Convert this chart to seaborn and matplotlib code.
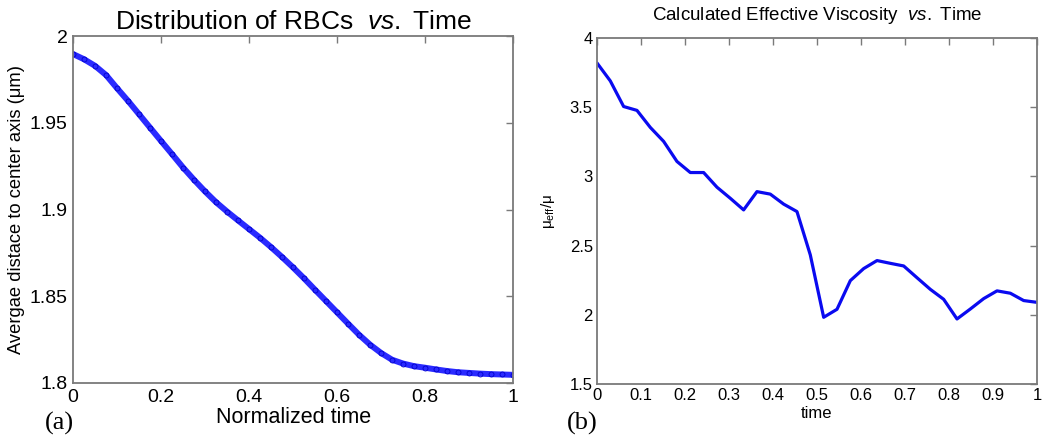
import matplotlib
matplotlib.use("Agg")
import matplotlib.pyplot as plt
import seaborn as sns
import pandas as pd

# ---- data ----
norm_time = [0.0, 0.025, 0.05, 0.075, 0.1, 0.125, 0.15, 0.175, 0.2, 0.225, 0.25,
             0.275, 0.3, 0.325, 0.35, 0.375, 0.4, 0.425, 0.45, 0.475, 0.5,
             0.525, 0.55, 0.575, 0.6, 0.625, 0.65, 0.675, 0.7, 0.725, 0.75,
             0.775, 0.8, 0.825, 0.85, 0.875, 0.9, 0.925, 0.95, 0.975, 1.0]
avg_dist = [1.9896, 1.9866, 1.9828, 1.9775, 1.9699, 1.9626, 1.9549, 1.9472, 1.9395,
            1.9319, 1.9242, 1.9171, 1.9104, 1.9042, 1.8988, 1.8937, 1.8887, 1.8837,
            1.8783, 1.8726, 1.8666, 1.8603, 1.8537, 1.8472, 1.8407, 1.8342, 1.8278,
            1.8221, 1.8173, 1.8134, 1.8112, 1.8097, 1.8088, 1.8078, 1.8069, 1.8062,
            1.8058, 1.8054, 1.8051, 1.8049, 1.8047]

visc_time = [0.0, 0.0303, 0.0606, 0.0909, 0.1212, 0.1515, 0.1818, 0.2121, 0.2424,
             0.2727, 0.3030, 0.3333, 0.3636, 0.3939, 0.4242, 0.4545, 0.4848, 0.5152,
             0.5455, 0.5758, 0.6061, 0.6364, 0.6667, 0.6970, 0.7273, 0.7576, 0.7879,
             0.8182, 0.8485, 0.8788, 0.9091, 0.9394, 0.9697, 1.0]
visc_ratio = [3.82, 3.69, 3.505, 3.477, 3.354, 3.253, 3.108, 3.028, 3.028, 2.922,
              2.842, 2.758, 2.89, 2.872, 2.80, 2.746, 2.433, 1.982, 2.04, 2.247,
              2.334, 2.392, 2.372, 2.353, 2.268, 2.184, 2.112, 1.970, 2.042, 2.117,
              2.173, 2.156, 2.103, 2.09]

left_xticks = [0, 0.2, 0.4, 0.6, 0.8, 1.0]
left_xticklabels = ["0", "0.2", "0.4", "0.6", "0.8", "1"]
left_yticks = [1.8, 1.85, 1.9, 1.95, 2.0]
left_yticklabels = ["1.8", "1.85", "1.9", "1.95", "2"]
right_xticks = [0, 0.1, 0.2, 0.3, 0.4, 0.5, 0.6, 0.7, 0.8, 0.9, 1.0]
right_xticklabels = ["0", "0.1", "0.2", "0.3", "0.4", "0.5", "0.6", "0.7", "0.8", "0.9", "1"]
right_yticks = [1.5, 2, 2.5, 3, 3.5, 4]
right_yticklabels = ["1.5", "2", "2.5", "3", "3.5", "4"]

df1 = pd.DataFrame({"t": norm_time, "d": avg_dist})
df2 = pd.DataFrame({"t": visc_time, "v": visc_ratio})

sns.set_theme(style="white")
plt.rcParams["font.family"] = ["Liberation Sans", "DejaVu Sans"]
plt.rcParams["mathtext.fontset"] = "custom"
plt.rcParams["mathtext.rm"] = "Liberation Sans"
plt.rcParams["mathtext.it"] = "Liberation Sans:italic"
for key in ("text.color", "axes.labelcolor", "xtick.labelcolor", "ytick.labelcolor",
            "axes.titlecolor"):
    plt.rcParams[key] = "black"

fig = plt.figure(figsize=(10.42, 4.44), dpi=100)
ax1 = fig.add_axes([0.0701, 0.1374, 0.4223, 0.7815])
ax2 = fig.add_axes([0.5729, 0.1351, 0.4223, 0.7793])

spine_col = "#7a7a7a"

# ---- left panel ----
sns.lineplot(data=df1, x="t", y="d", ax=ax1, color="#2a2aff", linewidth=4.3,
             marker="o", markersize=3.6, markerfacecolor="none",
             markeredgecolor="#0000cc", markeredgewidth=0.6, sort=False)
ax1.set_xlim(0, 1)
ax1.set_ylim(1.8, 2.0)
ax1.set_xticks(left_xticks)
ax1.set_xticklabels(left_xticklabels)
ax1.set_yticks(left_yticks)
ax1.set_yticklabels(left_yticklabels)
ax1.set_title(r"Distribution of RBCs  $\it{vs.}$ Time", fontsize=19, pad=5)
ax1.set_xlabel("Normalized time", fontsize=15.5, labelpad=1)
ax1.set_ylabel("Avergae distace to center axis (μm)", fontsize=13.2, labelpad=3)
ax1.tick_params(direction="in", top=True, right=True, length=5, width=1,
                color=spine_col, labelcolor="black", labelsize=14, pad=4)

# ---- right panel ----
sns.lineplot(data=df2, x="t", y="v", ax=ax2, color="#0a0af0", linewidth=2.3, sort=False)
ax2.set_xlim(0, 1)
ax2.set_ylim(1.5, 4)
ax2.set_xticks(right_xticks)
ax2.set_xticklabels(right_xticklabels)
ax2.set_yticks(right_yticks)
ax2.set_yticklabels(right_yticklabels)
ax2.set_title(r"Calculated Effective Viscosity  $\it{vs.}$ Time", fontsize=13.5, pad=13)
ax2.set_xlabel("time", fontsize=12, labelpad=2)
ax2.set_ylabel(r"μ$_{\rm eff}$/μ", fontsize=11, labelpad=9)
ax2.tick_params(direction="in", top=True, right=True, length=5, width=1,
                color=spine_col, labelcolor="black", labelsize=12, pad=3)

for ax in (ax1, ax2):
    for s in ax.spines.values():
        s.set_color(spine_col)
        s.set_linewidth(1.3)
    ax.grid(False)

fig.text(0.0566, 0.046, "(a)", family="Liberation Serif", fontsize=19,
         ha="center", va="center", color="black")
fig.text(0.559, 0.046, "(b)", family="Liberation Serif", fontsize=19,
         ha="center", va="center", color="black")

fig.savefig("out.png", dpi=100)
